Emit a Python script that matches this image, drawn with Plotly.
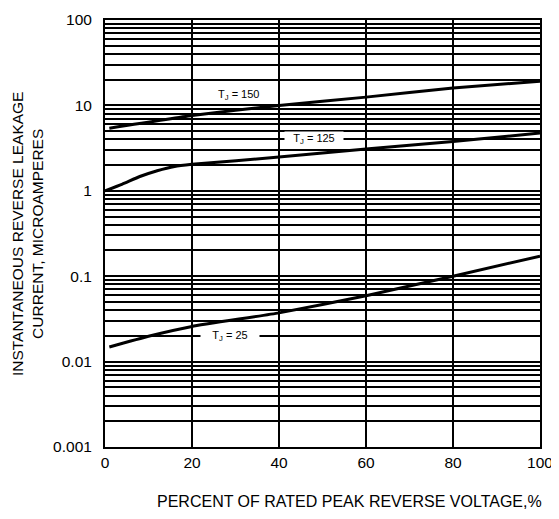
import math
import plotly.graph_objects as go

# ---- data ----
x_150 = [1, 20, 40, 60, 80, 100]
y_150 = [5.4, 7.6, 10.0, 12.5, 16.0, 19.2]

x_125 = [0, 4, 8, 12, 16, 20, 40, 60, 80, 100]
y_125 = [1.0, 1.2, 1.47, 1.72, 1.93, 2.04, 2.48, 3.08, 3.77, 4.75]

x_25 = [1, 10, 20, 40, 60, 80, 100]
y_25 = [0.0148, 0.0198, 0.0258, 0.0372, 0.059, 0.100, 0.172]

y_tickvals = [0.001, 0.01, 0.1, 1, 10, 100]
y_ticktext = ["0.001", "0.01", "0.1", "1", "10", "100"]
x_tickvals = [0, 20, 40, 60, 80, 100]

labels = ["T<sub>J</sub> = 150", "T<sub>J</sub> = 125", "T<sub>J</sub> = 25"]
label_x = [30.6, 48, 28.8]
label_y = [13.3, 4.0, 0.02]

FONT = "Liberation Sans, Arial, sans-serif"

fig = go.Figure()
for xs, ys in [(x_150, y_150), (x_125, y_125), (x_25, y_25)]:
    fig.add_trace(go.Scatter(x=xs, y=ys, mode="lines",
                             line=dict(color="black", width=3, shape="spline", smoothing=0.4),
                             showlegend=False, hoverinfo="skip"))

for i, (t, lx, ly) in enumerate(zip(labels, label_x, label_y)):
    fig.add_annotation(x=lx, y=math.log10(ly), yref="y", xref="x", text=t, showarrow=False,
                       font=dict(family=FONT, size=11, color="black"),
                       bgcolor="rgba(0,0,0,0)" if i == 0 else "white",
                       width=None if i == 0 else 58,
                       borderpad=0, xanchor="center", yanchor="middle")

fig.add_annotation(xref="paper", yref="paper", x=-0.178, y=0.5,
                   text="INSTANTANEOUS REVERSE LEAKAGE<br>CURRENT, MICROAMPERES",
                   textangle=-90, showarrow=False, xanchor="center", yanchor="middle",
                   font=dict(family=FONT, size=15.5, color="black"))
fig.add_annotation(xref="paper", yref="paper", x=0.563, y=-0.128,
                   text="PERCENT OF RATED PEAK REVERSE VOLTAGE,%",
                   showarrow=False, xanchor="center", yanchor="middle",
                   font=dict(family=FONT, size=16, color="black"))

fig.update_xaxes(range=[0, 100], tickvals=x_tickvals, showgrid=True, automargin=False,
                 gridcolor="black", gridwidth=2, zeroline=False,
                 showline=True, linecolor="black", linewidth=2, mirror=True,
                 ticks="", tickfont=dict(family=FONT, size=15.5, color="black"))
fig.update_yaxes(type="log", range=[-3, 2], tickvals=y_tickvals, ticktext=y_ticktext,
                 showgrid=True, gridcolor="black", gridwidth=2, zeroline=False, automargin=False,
                 showline=True, linecolor="black", linewidth=2, mirror=True,
                 ticks="", ticklabelstandoff=8,
                 tickfont=dict(family=FONT, size=15.5, color="black"),
                 minor=dict(dtick="D1", showgrid=True, gridcolor="black", gridwidth=1.6, ticks=""))

fig.update_layout(width=551, height=511, plot_bgcolor="white", paper_bgcolor="white",
                  margin=dict(l=97, r=19, t=12, b=72), showlegend=False)

fig.write_html("out.html")
